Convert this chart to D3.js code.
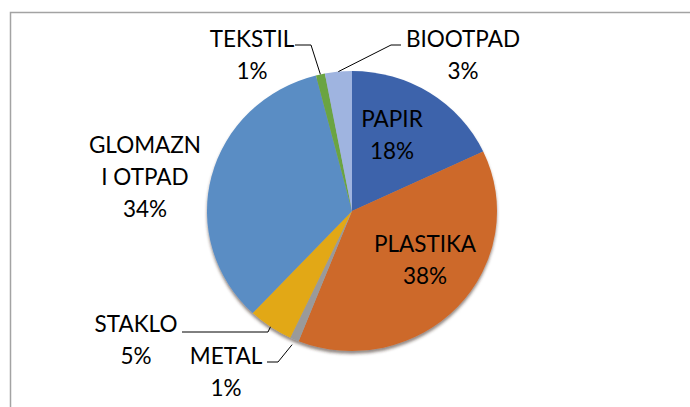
<!DOCTYPE html>
<html>
<head>
<meta charset="utf-8">
<script src="https://cdn.jsdelivr.net/npm/d3@7"></script>
<style>
  body { margin: 0; background: #fff; }
  svg { display: block; }
</style>
</head>
<body>
<div id="visDiv"></div>
<script>
(function () {

	// DATA
	var categories = ["PAPIR", "PLASTIKA", "METAL", "STAKLO", "GLOMAZNI OTPAD", "TEKSTIL", "BIOOTPAD"];
	var shares = [18, 38, 1, 5, 34, 1, 3];
	var labelLines = [["PAPIR"], ["PLASTIKA"], ["METAL"], ["STAKLO"], ["GLOMAZN", "I OTPAD"], ["TEKSTIL"], ["BIOOTPAD"]];

	// LAYOUT (label anchors, leader elbows)
	var colors = ["#3d63ab", "#cd692b", "#9a9a9a", "#e2a816", "#5a8dc4", "#6aa443", "#9fb4e0"];
	var labelPos = [[392, 127], [425, 252], [226, 364], [136, 332], [145, 153], [252, 47], [463, 47]];
	// leader: [startX, elbowX, y] or null
	var leaders = [null, null, [267, 278], [182, 268], null, [295, 311], [401, 391]];
	var lineH = 32;

	var w = 690, h = 407,
		cx = 352, cy = 211,
		rx = 145, ry = 140;

	var svg = d3.select('#visDiv')
		.append('svg')
			.attr('width', w)
			.attr('height', h);

	// outer frame
	svg.append('rect')
		.attr('x', 10.5).attr('y', 12.5)
		.attr('width', 700).attr('height', 420)
		.attr('fill', 'none')
		.attr('stroke', '#a3a3a3')
		.attr('stroke-width', 1.5);

	var defs = svg.append('defs');
	var f = defs.append('filter').attr('id', 'shadow')
		.attr('x', '-10%').attr('y', '-10%').attr('width', '120%').attr('height', '125%');
	f.append('feDropShadow')
		.attr('dx', 0).attr('dy', 3)
		.attr('stdDeviation', 1.5)
		.attr('flood-color', '#3a2a20')
		.attr('flood-opacity', 0.55);

	var pie = d3.pie().sort(null).value(function(d) { return d; });
	var arcs = pie(shares);

	var arc = d3.arc().innerRadius(0).outerRadius(rx);

	var g = svg.append('g')
		.attr('transform', 'translate(' + cx + ',' + cy + ') scale(1,' + (ry / rx) + ')')
		.attr('filter', 'url(#shadow)');

	g.selectAll('path')
		.data(arcs)
		.enter().append('path')
			.attr('d', arc)
			.attr('fill', function(d, i) { return colors[i]; });

	// edge point of a slice on the ellipse
	function edge(d, k) {
		var a = (d.startAngle + d.endAngle) / 2;
		return [cx + rx * k * Math.sin(a), cy - ry * k * Math.cos(a)];
	}

	// leader lines
	arcs.forEach(function(d, i) {
		var l = leaders[i];
		if (!l) return;
		var ly = labelPos[i][1] - 2;
		if (i === 3) ly = labelPos[i][1];
		var e = edge(d, i === 2 ? 1.04 : 1.0);
		svg.append('path')
			.attr('d', d3.line()([[l[0], ly], [l[1], ly], e]))
			.attr('fill', 'none')
			.attr('stroke', '#000')
			.attr('stroke-width', 1);
	});

	// labels
	arcs.forEach(function(d, i) {
		var t = svg.append('text')
			.attr('x', labelPos[i][0])
			.attr('y', labelPos[i][1])
			.attr('text-anchor', 'middle')
			.attr('font-family', 'Lato, "Open Sans", sans-serif')
			.attr('font-size', 22.5)
			.attr('fill', '#000');
		var lines = labelLines[i].concat([shares[i] + '%']);
		lines.forEach(function(s, j) {
			t.append('tspan')
				.attr('x', labelPos[i][0])
				.attr('y', labelPos[i][1] + j * lineH)
				.text(s);
		});
	});

}());
</script>
</body>
</html>
